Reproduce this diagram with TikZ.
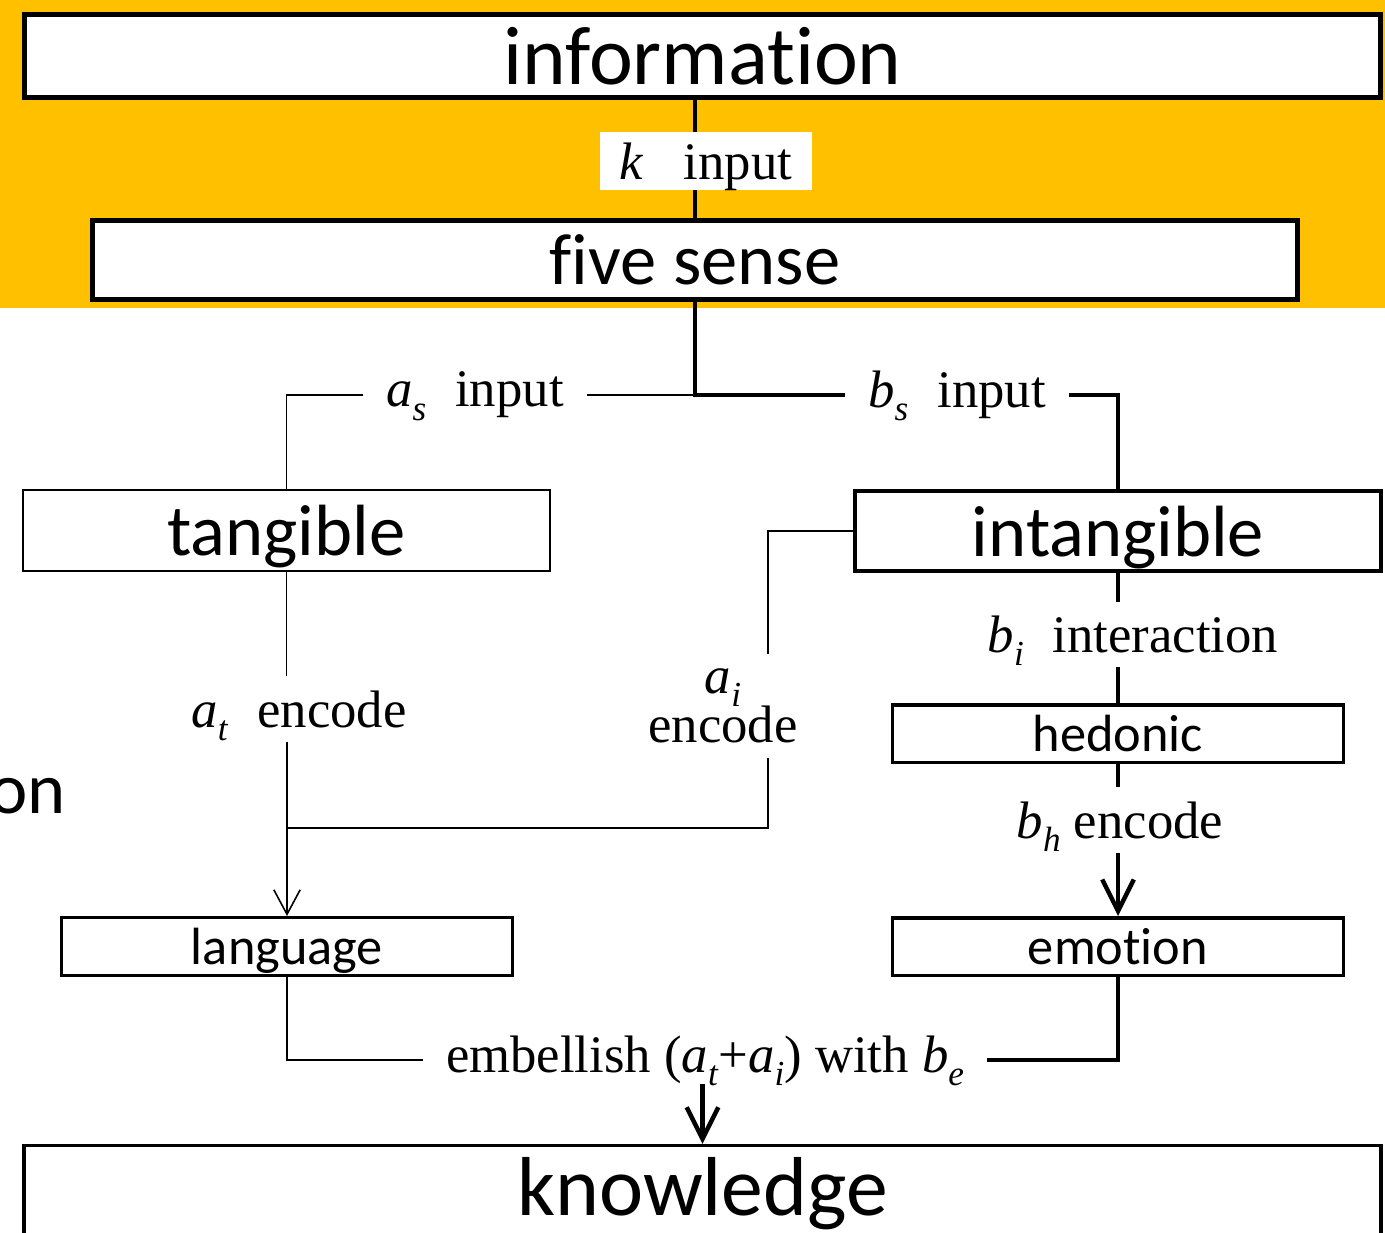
\documentclass[tikz,border=0pt]{standalone}
\usepackage{fontspec}
\setmainfont{Liberation Serif}
\newfontfamily\calibri[Ligatures=NoCommon]{Carlito}
\usetikzlibrary{arrows.meta}
\definecolor{bandorange}{HTML}{FFC000}
\newcommand\vsub[2]{\textit{#1}\raisebox{-0.25em}[0pt][0pt]{\fontsize{20}{20}\selectfont\textit{#2}}}

\begin{document}
\begin{tikzpicture}[x=0.02cm,y=-0.02cm,
		>={Straight Barb[length=14pt,width=15pt]},
		bigarrow/.style={-{Straight Barb[length=18pt,width=18pt]}},
		weak/.style={line width=0.9pt},
		strong/.style={line width=2.5pt},
		box/.style={draw,fill=white,inner sep=0pt,text depth=0pt},
		lab/.style={inner xsep=13pt,inner ysep=8pt,font=\fontsize{30}{28}\selectfont}]
		\useasboundingbox (0,0) rectangle (1385,1232);
		\fill[bandorange] (0,0) rectangle (1385,308);
		% boxes
		\node[box,line width=2.8pt,minimum width=27.14cm,minimum height=1.66cm,font={\calibri\fontsize{47.3}{56}\selectfont}] (info) at (702.5,56) {information};
		\node[box,line width=2.8pt,minimum width=24.12cm,minimum height=1.58cm,font={\calibri\fontsize{41.3}{49}\selectfont}] (five) at (695,260) {five sense};
		\node[box,line width=1.1pt,minimum width=10.54cm,minimum height=1.62cm,font={\calibri\fontsize{41.3}{49}\selectfont}] (tang) at (286.5,530.5) {tangible};
		\node[box,line width=2.3pt,minimum width=10.52cm,minimum height=1.6cm,font={\calibri\fontsize{41.3}{49}\selectfont}] (intang) at (1118,531) {intangible};
		\node[box,line width=2pt,minimum width=9.03cm,minimum height=1.15cm,font={\calibri\fontsize{29.8}{36}\selectfont}] (hed) at (1118,733.5) {hedonic};
		\node[box,line width=2pt,minimum width=9.03cm,minimum height=1.15cm,font={\calibri\fontsize{29.8}{36}\selectfont}] (emo) at (1118,946.5) {emotion};
		\node[box,line width=1.7pt,minimum width=9.02cm,minimum height=1.16cm,font={\calibri\fontsize{29.8}{36}\selectfont}] (lang) at (287,946.5) {language};
		\node[box,line width=2pt,text depth=8.5pt,minimum width=27.14cm,minimum height=1.94cm,font={\calibri\fontsize{47.6}{56}\selectfont}] (know) at (702.5,1194) {knowledge};
		\node[anchor=base east,inner sep=0pt,font={\calibri\fontsize{41.3}{49}\selectfont}] (cutword) at (66,813) {on};
		% labels
		\node[lab] (aslab) at (475,395) {\vsub{a}{s}\hspace{0.55em}input};
		\node[lab] (bslab) at (957,395) {\vsub{b}{s}\hspace{0.55em}input};
		\node[lab] (atlab) at (299,709) {\vsub{a}{t}\hspace{0.55em}encode};
		\node[lab,align=center] (ailab) at (723,706) {\vsub{a}{i}\\encode};
		\node[lab] (bilab) at (1133,634.5) {\vsub{b}{i}\hspace{0.55em}interaction};
		\node[lab] (bhlab) at (1120,820) {\vsub{b}{h} encode};
		\node[lab,inner ysep=0pt] (emblab) at (705,1060) {embellish (\vsub{a}{t}+\vsub{a}{i}) with \vsub{b}{e}};
		\coordinate (split) at (695,395);
		\coordinate (aibend) at (768,531);
		\coordinate (join) at (287,828);
		% connectors
		\draw[strong] (info.south -| five.north) -- (five.north);
		\node[fill=white,inner sep=0pt,minimum width=4.26cm,minimum height=1.16cm,text depth=0pt,font=\fontsize{30}{36}\selectfont] (klab) at (706,161) {\textit{k}\hspace{0.75em}input};
		\draw[strong] (five) |- (bslab);
		\draw[strong] (bslab) -| (intang);
		\draw[weak] (split) -- (aslab);
		\draw[weak] (aslab) -| (tang);
		\draw[weak] (tang.south) -- (tang.south |- atlab.north);
		\draw[weak,->] (lang.north |- atlab.south) -- (lang.north);
		\draw[weak] (intang.west) -| (aibend |- ailab.north);
		\draw[weak] (aibend |- ailab.south) |- (join);
		\draw[strong] (intang.south) -- (intang.south |- bilab.north);
		\draw[strong] (intang.south |- bilab.south) -- (hed.north);
		\draw[strong] (hed.south) -- (hed.south |- bhlab.north);
		\draw[strong,bigarrow] (hed.south |- bhlab.south) -- (emo.north);
		\draw[weak] (lang) |- (emblab);
		\draw[strong] (emo) |- (emblab);
		\draw[strong,bigarrow] (emblab.south -| know.north) -- (know.north);
	\end{tikzpicture}
\end{document}
